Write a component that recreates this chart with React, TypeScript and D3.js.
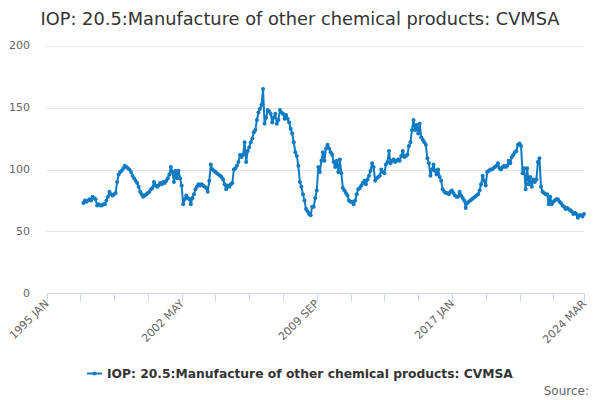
import React from "react";
import * as d3 from "d3";

const MONTHS = ["JAN", "FEB", "MAR", "APR", "MAY", "JUN", "JUL", "AUG", "SEP", "OCT", "NOV", "DEC"];
const categories: string[] = [];
for (let y = 1995; y <= 2024; y++) {
  for (let m = 0; m < 12; m++) {
    if (y === 2024 && m > 2) break;
    categories.push(`${y} ${MONTHS[m]}`);
  }
}

const seriesName = "IOP: 20.5:Manufacture of other chemical products: CVMSA";
const seriesStart = "1997 JAN";
const values: number[] = [
  // 1997
  73, 75, 74, 75, 76, 75, 78, 77, 76, 71, 72, 71,
  // 1998
  71, 72, 72, 75, 78, 82, 80, 79, 80, 81, 90, 96,
  // 1999
  98, 99, 101, 103, 102, 101, 100, 98, 95, 93, 91, 89,
  // 2000
  86, 82, 80, 78, 79, 80, 81, 82, 84, 85, 90, 87,
  // 2001
  86, 87, 89, 88, 90, 89, 91, 93, 96, 102, 98, 90,
  // 2002
  99, 93, 99, 93, 87, 72, 76, 79, 77, 76, 72, 77,
  // 2003
  80, 84, 86, 88, 87, 88, 87, 86, 85, 82, 91, 104,
  // 2004
  100, 99, 98, 97, 96, 95, 94, 92, 88, 84, 87, 86,
  // 2005
  88, 89, 100, 101, 103, 106, 112, 110, 112, 122, 106, 115,
  // 2006
  118, 122, 125, 130, 132, 140, 146, 149, 152, 165, 137, 142,
  // 2007
  148, 147, 145, 138, 142, 145, 137, 140, 148, 146, 145, 141,
  // 2008
  144, 141, 138, 133, 129, 122, 114, 111, 103, 90, 86, 80,
  // 2009
  75, 68, 66, 64, 63, 70, 70, 77, 83, 102, 98, 107,
  // 2010
  114, 107, 117, 120, 117, 114, 112, 106, 102, 107, 98, 108,
  // 2011
  97, 85, 83, 81, 79, 75, 74, 74, 72, 75, 80, 84,
  // 2012
  85, 87, 89, 91, 88, 92, 95, 99, 105, 102, 91, 93,
  // 2013
  94, 95, 100, 98, 97, 104, 106, 115, 105, 107, 108, 106,
  // 2014
  107, 108, 107, 111, 115, 110, 111, 112, 119, 122, 132, 140,
  // 2015
  132, 136, 129, 137, 126, 124, 122, 120, 109, 105, 95, 100,
  // 2016
  104, 99, 96, 100, 94, 91, 84, 82, 81, 81, 80, 82,
  // 2017
  83, 81, 79, 78, 78, 82, 79, 77, 75, 69, 73, 74,
  // 2018
  75, 76, 77, 78, 79, 80, 83, 88, 95, 91, 87, 98,
  // 2019
  99, 100, 100, 101, 102, 103, 105, 101, 100, 102, 103, 102,
  // 2020
  103, 107, 105, 110, 112, 114, 115, 120, 121, 119, 97, 101,
  // 2021
  84, 101, 88, 94, 86, 92, 90, 92, 106, 109, 86, 82,
  // 2022
  81, 80, 80, 72, 78, 72, 74, 75, 76, 76, 74, 73,
  // 2023
  71, 70, 68, 69, 68, 67, 66, 64, 65, 64, 61, 63,
  // 2024
  63, 62, 64,
];

const yTicks = [0, 50, 100, 150, 200];
const xTickLabels = ["1995 JAN", "2002 MAY", "2009 SEP", "2017 JAN", "2024 MAR"];
const xTickStep = 22;

const W = 600;
const H = 400;
const FONT = "'DejaVu Sans', Verdana, sans-serif";
const LINE = "#0f7bc3";

export default function App() {
  const left = 46.5;
  const right = 584;
  const top = 45.7;
  const bottom = 293.3;
  const n = categories.length;
  const x = d3.scaleLinear().domain([0, n - 1]).range([left, right]);
  const y = d3.scaleLinear().domain([0, 200]).range([bottom, top]);
  const startIdx = categories.indexOf(seriesStart);
  const pts: [number, number][] = values.map((v, i) => [startIdx + i, v]);
  const line = d3
    .line<[number, number]>()
    .x((d) => x(d[0]))
    .y((d) => y(d[1]));
  const tickIdx = d3.range(0, n - 1, xTickStep).concat([n - 1]);
  const axisY = Math.round(bottom) + 0.5;

  return (
    <svg
      width={W}
      height={H}
      style={{ position: "absolute", left: 0, top: 0, fontFamily: FONT }}
    >
      <rect width={W} height={H} fill="#ffffff" />
      <text x={300} y={25} textAnchor="middle" fontSize={17.8} fill="#333333">
        {seriesName}
      </text>
      {yTicks.map((t) => (
        <g key={t}>
          {t > 0 && (
            <line
              x1={left}
              x2={right}
              y1={Math.round(y(t)) + 0.5}
              y2={Math.round(y(t)) + 0.5}
              stroke="#e6e6e6"
              strokeWidth={1}
            />
          )}
          <text x={30} y={y(t) + 3.5} textAnchor="end" fontSize={11} fill="#666666">
            {t}
          </text>
        </g>
      ))}
      <line x1={left} x2={right} y1={axisY} y2={axisY} stroke="#ccd6eb" strokeWidth={1} />
      {tickIdx.map((i) => (
        <line
          key={i}
          x1={Math.round(x(i)) + 0.5}
          x2={Math.round(x(i)) + 0.5}
          y1={axisY}
          y2={axisY + 8}
          stroke="#ccd6eb"
          strokeWidth={1}
        />
      ))}
      {xTickLabels.map((lab) => {
        const i = categories.indexOf(lab);
        const px = x(i) + 3;
        const py = bottom + 11;
        return (
          <text
            key={lab}
            x={px}
            y={py}
            textAnchor="end"
            fontSize={11}
            fill="#666666"
            transform={`rotate(-45 ${px} ${py})`}
          >
            {lab}
          </text>
        );
      })}
      <path d={line(pts) || ""} fill="none" stroke={LINE} strokeWidth={2} strokeLinejoin="round" />
      {pts.map((d, i) => (
        <circle key={i} cx={x(d[0])} cy={y(d[1])} r={2} fill={LINE} />
      ))}
      <g>
        <line x1={87} x2={102} y1={373.5} y2={373.5} stroke={LINE} strokeWidth={2} />
        <circle cx={94.5} cy={373.5} r={2} fill={LINE} />
        <text x={107} y={378} fontSize={12.3} fontWeight="bold" fill="#333333">
          {seriesName}
        </text>
      </g>
      <text x={589} y={395} textAnchor="end" fontSize={12} fill="#666666">
        Source:
      </text>
    </svg>
  );
}
